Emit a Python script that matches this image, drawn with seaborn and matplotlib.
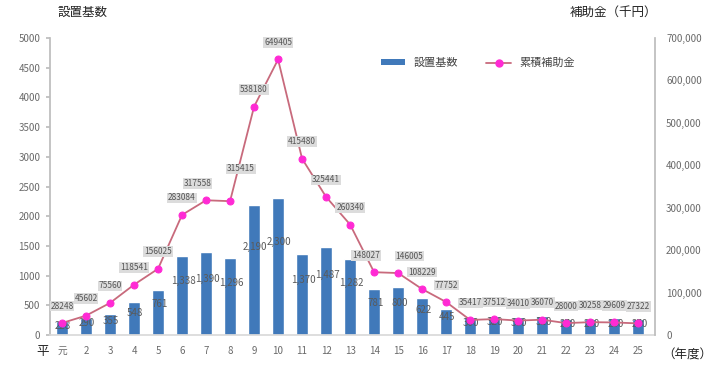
import numpy as np
import pandas as pd
import matplotlib
matplotlib.use("Agg")
import matplotlib.pyplot as plt
import seaborn as sns
from matplotlib.lines import Line2D
from matplotlib.patches import Patch

# 年度ごとの設置基数と累積補助金（千円）
years = ["元", "2", "3", "4", "5", "6", "7", "8", "9", "10", "11", "12", "13",
         "14", "15", "16", "17", "18", "19", "20", "21", "22", "23", "24", "25"]
units = [228, 290, 355, 548, 761, 1338, 1390, 1296, 2190, 2300, 1370, 1487, 1282,
         781, 800, 622, 445, 300, 320, 300, 320, 270, 270, 280, 270]
subsidy = [28248, 45602, 75560, 118541, 156025, 283084, 317558, 315415, 538180,
           649405, 415480, 325441, 260340, 148027, 146005, 108229, 77752, 35417,
           37512, 34010, 36070, 28000, 30258, 29609, 27322]

left_ticks = list(range(0, 5001, 500))
right_ticks = list(range(0, 700001, 100000))

sns.set_theme(style="white")
plt.rcParams["font.family"] = ["Noto Sans CJK JP", "DejaVu Sans"]

df = pd.DataFrame({"idx": np.arange(len(years)), "year": years,
                   "units": units, "subsidy": subsidy})

fig = plt.figure(figsize=(7.22, 3.69), dpi=100)
ax = fig.add_axes([50 / 722, 1 - 335 / 369, 605 / 722, 297 / 369])

bar_color = "#4079ba"
line_color = "#c86a7c"
marker_color = "#ff2ad4"
tick_color = "#6a6a6a"

sns.barplot(data=df, x="idx", y="units", color=bar_color, width=0.5,
            saturation=1, ax=ax, zorder=2)
ax.set_xlim(-0.5, 24.7)
ax.set_ylim(0, 5000)
ax.set_yticks(left_ticks)
ax.set_yticklabels([str(v) for v in left_ticks])
ax.set_xticks(df["idx"])
ax.set_xticklabels(years)
ax.set_xlabel("")
ax.set_ylabel("")

# bar value labels
for i, v in enumerate(units):
    ax.text(i + 0.05, v * 0.68, f"{v:,}", ha="center", va="center",
            fontsize=7, color="#5a5a5a", zorder=5)

ax2 = ax.twinx()
sns.lineplot(data=df, x="idx", y="subsidy", color=line_color, lw=1.3,
             marker="o", markersize=5, markerfacecolor=marker_color,
             markeredgecolor=marker_color, ax=ax2, zorder=4)
ax2.set_ylim(0, 700000)
ax2.set_yticks(right_ticks)
ax2.set_yticklabels([f"{v:,}" for v in right_ticks])
ax2.set_xlabel("")
ax2.set_ylabel("")
ax2.set_xlim(-0.5, 24.7)

# label offsets (points) where neighbouring labels would collide
label_shift = {6: (-6, 9), 7: (8, 20), 13: (-6, 9), 14: (8, 9)}
for i, v in enumerate(subsidy):
    dx, dy = label_shift.get(i, (0, 9))
    ax2.annotate(str(v), (i, v), xytext=(dx, dy), textcoords="offset points",
                 ha="center", va="bottom", fontsize=6, color="#555555",
                 bbox=dict(boxstyle="square,pad=0.1", fc="#dcdcdc", ec="none"),
                 zorder=6)

for a in (ax, ax2):
    for s in a.spines.values():
        s.set_visible(False)
    a.tick_params(axis="both", labelsize=7, colors=tick_color, length=0, pad=4)
ax.spines["left"].set_visible(True)
ax.spines["left"].set_color("#bdbdbd")
ax.spines["bottom"].set_visible(True)
ax.spines["bottom"].set_color("#d9d9d9")
ax2.spines["right"].set_visible(True)
ax2.spines["right"].set_color("#bdbdbd")
ax.tick_params(axis="y", length=3, color="#bdbdbd")
ax.tick_params(axis="x", pad=8)
ax2.tick_params(axis="y", pad=8)

# axis titles and extra labels
fig.text(58 / 722, 1 - 12 / 369, "設置基数", fontsize=9, color="#222222",
         ha="left", va="center")
fig.text(570 / 722, 1 - 12 / 369, "補助金（千円）", fontsize=9, color="#222222",
         ha="left", va="center")
fig.text(43 / 722, 1 - 351 / 369, "平", fontsize=9, color="#222222",
         ha="center", va="center")
fig.text(712 / 722, 1 - 355 / 369, "（年度）", fontsize=9, color="#222222",
         ha="right", va="center")

handles = [Patch(facecolor=bar_color, edgecolor="none"),
           Line2D([0], [0], color=line_color, lw=1.3, marker="o", markersize=5,
                  markerfacecolor=marker_color, markeredgecolor=marker_color)]
fig.legend(handles, ["設置基数", "累積補助金"], loc="center",
           bbox_to_anchor=(478 / 722, 1 - 63 / 369), ncol=2, frameon=False,
           fontsize=8, handlelength=2.2, handleheight=0.5, columnspacing=2.5,
           labelcolor="#444444")

fig.savefig("out.png", dpi=100)
